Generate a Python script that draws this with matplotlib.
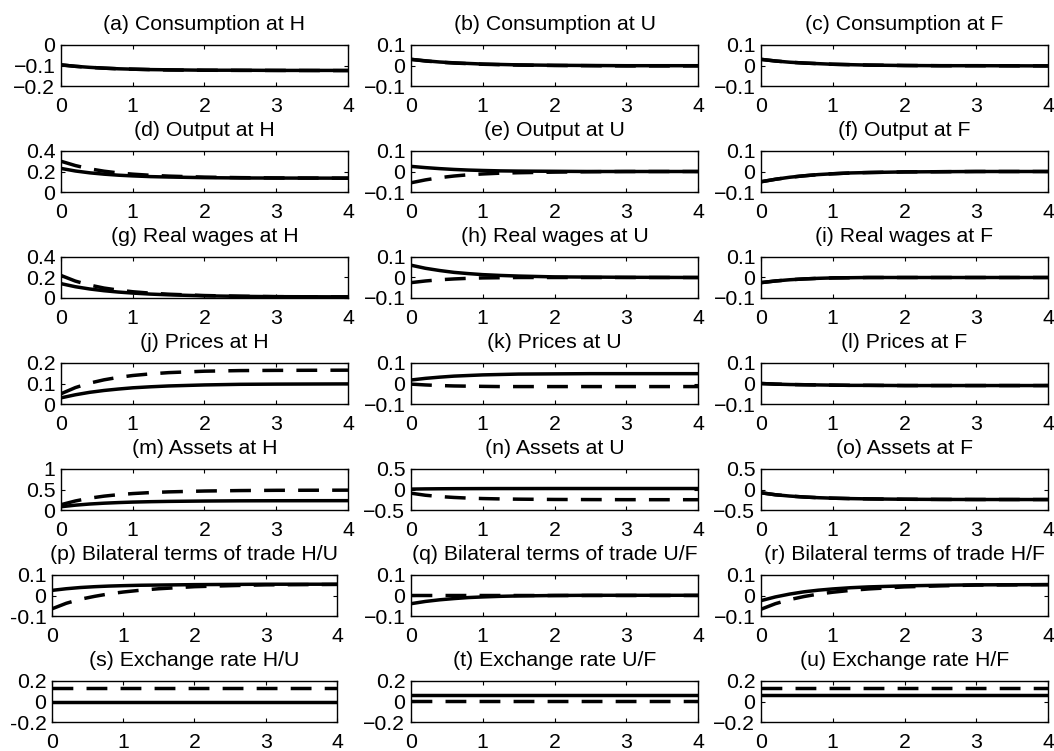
import matplotlib
matplotlib.use("Agg")
import matplotlib.pyplot as plt

plt.rcParams['font.family'] = ['Liberation Sans', 'DejaVu Sans']

# time axis (years)
t = [0, 0.2, 0.4, 0.6, 0.8, 1.0, 1.25, 1.5, 2.0, 2.5, 3.0, 4.0]

titles = [
    "(a) Consumption at H", "(b) Consumption at U", "(c) Consumption at F",
    "(d) Output at H", "(e) Output at U", "(f) Output at F",
    "(g) Real wages at H", "(h) Real wages at U", "(i) Real wages at F",
    "(j) Prices at H", "(k) Prices at U", "(l) Prices at F",
    "(m) Assets at H", "(n) Assets at U", "(o) Assets at F",
    "(p) Bilateral terms of trade H/U", "(q) Bilateral terms of trade U/F", "(r) Bilateral terms of trade H/F",
    "(s) Exchange rate H/U", "(t) Exchange rate U/F", "(u) Exchange rate H/F",
]

solid_a = [-0.097, -0.104, -0.109, -0.113, -0.116, -0.118, -0.120, -0.121, -0.123, -0.123, -0.124, -0.124]
dash_a  = [-0.097, -0.104, -0.109, -0.113, -0.116, -0.118, -0.120, -0.122, -0.123, -0.124, -0.124, -0.125]
solid_b = [0.030, 0.023, 0.017, 0.013, 0.010, 0.007, 0.005, 0.003, 0.001, 0.000, -0.001, -0.001]
dash_b  = [0.030, 0.022, 0.016, 0.012, 0.009, 0.006, 0.004, 0.002, 0.000, -0.001, -0.002, -0.002]
solid_c = [0.030, 0.022, 0.016, 0.012, 0.009, 0.006, 0.004, 0.002, 0.000, -0.001, -0.001, -0.002]
dash_c  = [0.030, 0.022, 0.016, 0.012, 0.009, 0.006, 0.004, 0.002, 0.000, -0.001, -0.001, -0.002]
solid_d = [0.230, 0.205, 0.187, 0.174, 0.164, 0.157, 0.150, 0.146, 0.140, 0.137, 0.136, 0.135]
dash_d  = [0.300, 0.258, 0.226, 0.203, 0.186, 0.174, 0.163, 0.155, 0.145, 0.140, 0.137, 0.135]
solid_e = [0.025, 0.019, 0.014, 0.010, 0.007, 0.005, 0.003, 0.002, 0.001, 0.000, 0.000, 0.000]
dash_e  = [-0.055, -0.041, -0.030, -0.022, -0.016, -0.012, -0.008, -0.006, -0.003, -0.001, 0.000, 0.000]
solid_f = [-0.050, -0.038, -0.028, -0.021, -0.015, -0.011, -0.007, -0.005, -0.002, -0.001, 0.000, 0.000]
dash_f  = [-0.050, -0.038, -0.028, -0.021, -0.015, -0.011, -0.007, -0.005, -0.002, -0.001, 0.000, 0.000]
solid_g = [0.140, 0.110, 0.088, 0.071, 0.058, 0.048, 0.038, 0.031, 0.021, 0.016, 0.013, 0.011]
dash_g  = [0.220, 0.165, 0.126, 0.097, 0.077, 0.061, 0.047, 0.037, 0.024, 0.017, 0.013, 0.011]
solid_h = [0.060, 0.045, 0.034, 0.025, 0.019, 0.014, 0.010, 0.007, 0.003, 0.002, 0.001, 0.000]
dash_h  = [-0.025, -0.017, -0.011, -0.007, -0.004, -0.002, -0.001, 0.000, 0.000, 0.000, 0.000, 0.000]
solid_i = [-0.025, -0.017, -0.011, -0.007, -0.004, -0.002, -0.001, 0.000, 0.000, 0.000, 0.000, 0.000]
dash_i  = [-0.025, -0.017, -0.011, -0.007, -0.004, -0.002, -0.001, 0.000, 0.000, 0.000, 0.000, 0.000]
solid_j = [0.030, 0.045, 0.057, 0.066, 0.073, 0.079, 0.084, 0.088, 0.093, 0.096, 0.097, 0.098]
dash_j  = [0.050, 0.080, 0.102, 0.118, 0.130, 0.139, 0.147, 0.153, 0.160, 0.163, 0.164, 0.165]
solid_k = [0.017, 0.025, 0.031, 0.036, 0.039, 0.042, 0.044, 0.046, 0.047, 0.048, 0.048, 0.048]
dash_k  = [-0.003, -0.007, -0.010, -0.012, -0.013, -0.014, -0.015, -0.015, -0.015, -0.015, -0.015, -0.015]
solid_l = [0.000, -0.003, -0.005, -0.006, -0.007, -0.008, -0.009, -0.009, -0.010, -0.010, -0.010, -0.010]
dash_l  = [0.000, -0.003, -0.005, -0.006, -0.007, -0.008, -0.009, -0.009, -0.010, -0.010, -0.010, -0.010]
solid_m = [0.080, 0.118, 0.146, 0.166, 0.181, 0.193, 0.203, 0.210, 0.219, 0.224, 0.226, 0.228]
dash_m  = [0.130, 0.220, 0.289, 0.338, 0.374, 0.401, 0.425, 0.442, 0.463, 0.474, 0.480, 0.484]
solid_n = [0.010, 0.015, 0.018, 0.020, 0.021, 0.022, 0.023, 0.023, 0.024, 0.024, 0.024, 0.024]
dash_n  = [-0.090, -0.140, -0.172, -0.194, -0.210, -0.221, -0.230, -0.236, -0.243, -0.246, -0.248, -0.249]
solid_o = [-0.080, -0.128, -0.160, -0.183, -0.200, -0.212, -0.222, -0.229, -0.238, -0.242, -0.244, -0.245]
dash_o  = [-0.080, -0.128, -0.160, -0.183, -0.200, -0.212, -0.222, -0.229, -0.238, -0.242, -0.244, -0.245]
solid_p = [0.025, 0.033, 0.039, 0.043, 0.046, 0.048, 0.050, 0.051, 0.053, 0.054, 0.055, 0.055]
dash_p  = [-0.065, -0.038, -0.018, -0.004, 0.008, 0.017, 0.026, 0.033, 0.043, 0.048, 0.052, 0.054]
solid_q = [-0.040, -0.029, -0.021, -0.015, -0.010, -0.007, -0.004, -0.002, 0.000, 0.001, 0.001, 0.001]
dash_q  = [0.002, 0.002, 0.002, 0.002, 0.002, 0.002, 0.002, 0.002, 0.002, 0.002, 0.002, 0.002]
solid_r = [-0.025, -0.007, 0.007, 0.018, 0.026, 0.032, 0.038, 0.042, 0.047, 0.050, 0.052, 0.053]
dash_r  = [-0.067, -0.040, -0.020, -0.005, 0.007, 0.016, 0.025, 0.032, 0.042, 0.047, 0.051, 0.053]
solid_s = [0.000] * 12
dash_s  = [0.132] * 12
solid_t = [0.062] * 12
dash_t  = [0.002] * 12
solid_u = [0.062] * 12
dash_u  = [0.132] * 12

solids = [solid_a, solid_b, solid_c, solid_d, solid_e, solid_f, solid_g, solid_h, solid_i,
          solid_j, solid_k, solid_l, solid_m, solid_n, solid_o, solid_p, solid_q, solid_r,
          solid_s, solid_t, solid_u]
dashes = [dash_a, dash_b, dash_c, dash_d, dash_e, dash_f, dash_g, dash_h, dash_i,
          dash_j, dash_k, dash_l, dash_m, dash_n, dash_o, dash_p, dash_q, dash_r,
          dash_s, dash_t, dash_u]

# y tick values and labels per panel
yticks = [
    [-0.2, -0.1, 0], [-0.1, 0, 0.1], [-0.1, 0, 0.1],
    [0, 0.2, 0.4], [-0.1, 0, 0.1], [-0.1, 0, 0.1],
    [0, 0.2, 0.4], [-0.1, 0, 0.1], [-0.1, 0, 0.1],
    [0, 0.1, 0.2], [-0.1, 0, 0.1], [-0.1, 0, 0.1],
    [0, 0.5, 1], [-0.5, 0, 0.5], [-0.5, 0, 0.5],
    [-0.1, 0, 0.1], [-0.1, 0, 0.1], [-0.1, 0, 0.1],
    [-0.2, 0, 0.2], [-0.2, 0, 0.2], [-0.2, 0, 0.2],
]
ylabels = [
    ["\u22120.2", "\u22120.1", "0"], ["\u22120.1", "0", "0.1"], ["\u22120.1", "0", "0.1"],
    ["0", "0.2", "0.4"], ["\u22120.1", "0", "0.1"], ["\u22120.1", "0", "0.1"],
    ["0", "0.2", "0.4"], ["\u22120.1", "0", "0.1"], ["\u22120.1", "0", "0.1"],
    ["0", "0.1", "0.2"], ["\u22120.1", "0", "0.1"], ["\u22120.1", "0", "0.1"],
    ["0", "0.5", "1"], ["\u22120.5", "0", "0.5"], ["\u22120.5", "0", "0.5"],
    ["-0.1", "0", "0.1"], ["\u22120.1", "0", "0.1"], ["\u22120.1", "0", "0.1"],
    ["-0.2", "0", "0.2"], ["\u22120.2", "0", "0.2"], ["\u22120.2", "0", "0.2"],
]
xticks = [0, 1, 2, 3, 4]
xlabels = ["0", "1", "2", "3", "4"]

W, H = 1054, 751
fig = plt.figure(figsize=(W / 100, H / 100), dpi=100)

col_left = [61, 411, 761]
row_top = [45, 151, 257, 363, 469, 575, 681]
ax_w, ax_h = 287, 41
FS = 15.3

for idx in range(21):
    r, c = divmod(idx, 3)
    left = col_left[c]
    width = ax_w
    if c == 0 and r >= 5:
        left = 52
        width = 285
    top = row_top[r]
    ax = fig.add_axes([left / W, 1 - (top + ax_h) / H, width / W, ax_h / H])
    ax.plot(t, solids[idx], color='black', lw=2.5, solid_capstyle='butt')
    ax.plot(t, dashes[idx], color='black', lw=2.5, ls=(0, (6.0, 3.8)), dash_capstyle='butt')
    ax.set_xlim(0, 4)
    ax.set_ylim(yticks[idx][0], yticks[idx][-1])
    ax.set_xticks(xticks)
    ax.set_xticklabels(xlabels)
    ax.set_yticks(yticks[idx])
    ax.set_yticklabels(ylabels[idx])
    ax.tick_params(direction='in', top=True, right=True, length=3, width=0.8,
                   labelsize=FS, pad=4)
    ax.tick_params(axis='x', pad=8)
    for sp in ax.spines.values():
        sp.set_linewidth(1.0)
    ax.set_title(titles[idx], fontsize=FS, pad=11)

fig.savefig("out.png", dpi=100)
